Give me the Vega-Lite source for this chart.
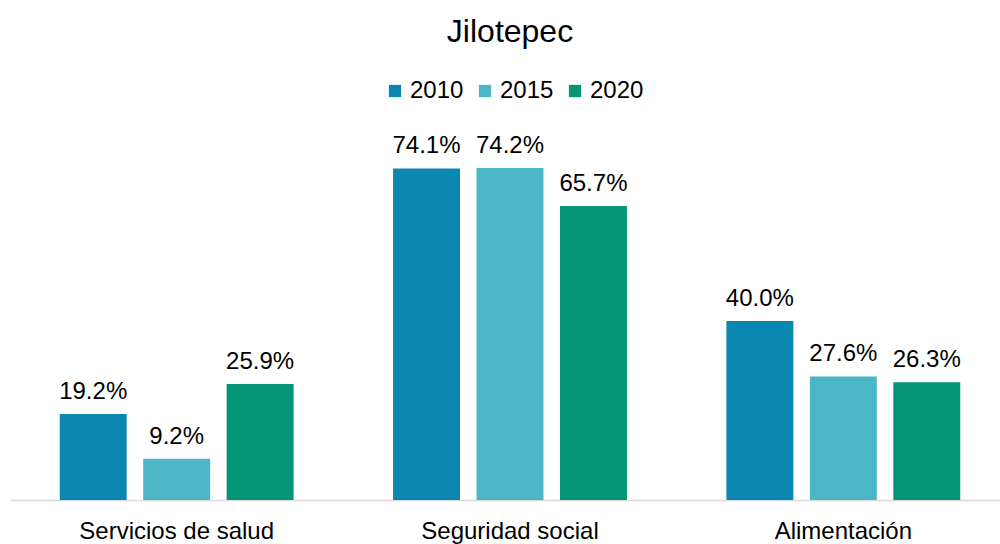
{
  "$schema": "https://vega.github.io/schema/vega-lite/v6.json",
  "autosize": {"type": "none"},
  "width": 1000,
  "height": 358,
  "padding": {"left": 10, "top": 142, "right": 0, "bottom": 44},
  "config": {
    "font": "Liberation Sans",
    "view": {"stroke": null}
  },
  "title": {
    "text": "Jilotepec",
    "fontSize": 32,
    "fontWeight": "normal",
    "color": "#000000",
    "anchor": "middle",
    "offset": 30
  },
  "data": {
    "values": [
      {"category": "Servicios de salud", "year": "2010", "value": 19.2},
      {"category": "Servicios de salud", "year": "2015", "value": 9.2},
      {"category": "Servicios de salud", "year": "2020", "value": 25.9},
      {"category": "Seguridad social", "year": "2010", "value": 74.1},
      {"category": "Seguridad social", "year": "2015", "value": 74.2},
      {"category": "Seguridad social", "year": "2020", "value": 65.7},
      {"category": "Alimentación", "year": "2010", "value": 40.0},
      {"category": "Alimentación", "year": "2015", "value": 27.6},
      {"category": "Alimentación", "year": "2020", "value": 26.3}
    ]
  },
  "encoding": {
    "x": {
      "field": "category",
      "type": "nominal",
      "sort": null,
      "scale": {"paddingInner": 0, "paddingOuter": 0},
      "axis": {
        "title": null,
        "labelAngle": 0,
        "labelFontSize": 24,
        "labelColor": "#000000",
        "labelPadding": 19,
        "labelLimit": 0,
        "ticks": false,
        "domainColor": "#D9D9D9",
        "domainWidth": 1.5
      }
    },
    "xOffset": {
      "field": "year",
      "type": "nominal",
      "scale": {"paddingInner": 0.198, "paddingOuter": 0.596}
    },
    "y": {
      "field": "value",
      "type": "quantitative",
      "scale": {"domain": [0, 80], "nice": false},
      "axis": null
    }
  },
  "layer": [
    {
      "mark": {"type": "bar"},
      "encoding": {
        "color": {
          "field": "year",
          "type": "nominal",
          "scale": {"domain": ["2010", "2015", "2020"], "range": ["#0A87B0", "#4BB6C6", "#039575"]},
          "legend": {
            "title": null,
            "orient": "none",
            "direction": "horizontal",
            "legendX": 373,
            "legendY": -63,
            "symbolType": "square",
            "symbolSize": 150,
            "symbolStrokeWidth": 0,
            "labelFontSize": 24,
            "labelColor": "#000000",
            "labelOffset": 3,
            "columnPadding": 9
          }
        }
      }
    },
    {
      "mark": {
        "type": "text",
        "baseline": "bottom",
        "dy": -10,
        "fontSize": 24,
        "color": "#000000",
        "text": {"expr": "format(datum.value, '.1f') + '%'"}
      }
    }
  ]
}
